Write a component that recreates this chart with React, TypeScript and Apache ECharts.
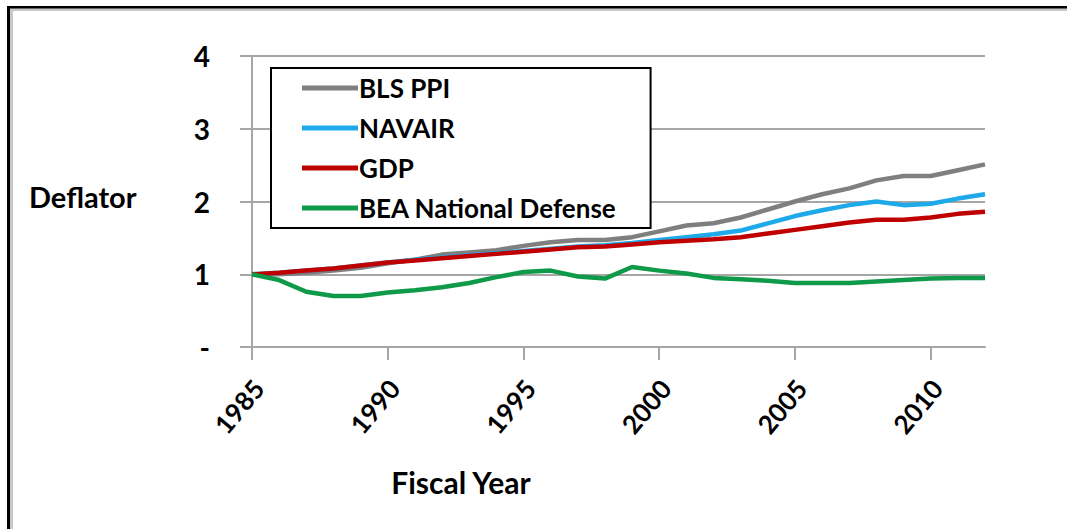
import React, { useEffect, useRef } from "react";
import * as echarts from "echarts";

const years = [
  "1985", "1986", "1987", "1988", "1989", "1990", "1991", "1992", "1993", "1994",
  "1995", "1996", "1997", "1998", "1999", "2000", "2001", "2002", "2003", "2004",
  "2005", "2006", "2007", "2008", "2009", "2010", "2011", "2012",
];

const blsPpi = [
  1.0, 1.0, 1.02, 1.05, 1.09, 1.15, 1.2, 1.27, 1.3, 1.33,
  1.39, 1.44, 1.47, 1.47, 1.51, 1.59, 1.67, 1.7, 1.78, 1.89,
  2.0, 2.1, 2.18, 2.29, 2.35, 2.35, 2.43, 2.51,
];

const navair = [
  1.0, 1.02, 1.05, 1.08, 1.12, 1.16, 1.2, 1.23, 1.26, 1.29,
  1.32, 1.35, 1.38, 1.4, 1.43, 1.47, 1.51, 1.55, 1.6, 1.7,
  1.8, 1.88, 1.95, 2.0, 1.95, 1.97, 2.04, 2.1,
];

const gdp = [
  1.0, 1.02, 1.05, 1.08, 1.12, 1.16, 1.19, 1.22, 1.25, 1.28,
  1.31, 1.34, 1.37, 1.38, 1.41, 1.44, 1.46, 1.48, 1.51, 1.56,
  1.61, 1.66, 1.71, 1.75, 1.75, 1.78, 1.83, 1.86,
];

const beaDefense = [
  1.0, 0.92, 0.76, 0.7, 0.7, 0.75, 0.78, 0.82, 0.88, 0.96,
  1.03, 1.05, 0.97, 0.94, 1.1, 1.05, 1.01, 0.95, 0.93, 0.91,
  0.88, 0.88, 0.88, 0.9, 0.92, 0.94, 0.95, 0.95,
];

const seriesNames = ["BLS PPI", "NAVAIR", "GDP", "BEA National Defense"];
const seriesColors = ["#7f7f7f", "#1eaaea", "#c00000", "#0e9a48"];
const seriesData = [blsPpi, navair, gdp, beaDefense];

const FONT = "Lato, 'Open Sans', sans-serif";

export default function App() {
  const ref = useRef<HTMLDivElement>(null);
  useEffect(() => {
    if (!ref.current) return;
    const chart = echarts.init(ref.current, null, { renderer: "svg" });
    chart.setOption({
      animation: false,
      backgroundColor: "#ffffff",
      grid: { left: 252, top: 56, right: 82, bottom: 182, containLabel: false },
      legend: {
        left: 271,
        top: 68,
        orient: "vertical",
        data: seriesNames,
        icon: "rect",
        itemWidth: 56,
        itemHeight: 5,
        itemGap: 10,
        padding: [5, 34, 5, 31],
        borderColor: "#000",
        borderWidth: 2,
        backgroundColor: "#fff",
        textStyle: {
          fontFamily: FONT,
          fontWeight: "bold",
          fontSize: 26,
          lineHeight: 30,
          color: "#000",
          padding: [0, 0, 0, -4],
        },
      },
      xAxis: {
        type: "category",
        data: years,
        boundaryGap: false,
        axisLine: { lineStyle: { color: "#a6a6a6", width: 2 } },
        axisTick: {
          show: true,
          interval: 4,
          length: 13,
          lineStyle: { color: "#a6a6a6", width: 2 },
        },
        axisLabel: {
          interval: 4,
          rotate: 50,
          margin: 44,
          padding: [0, -10, 0, 0],
          fontFamily: FONT,
          fontWeight: "bold",
          fontSize: 26,
          color: "#000",
        },
        splitLine: { show: false },
      },
      yAxis: {
        type: "value",
        min: 0,
        max: 4,
        interval: 1,
        axisLine: { show: true, lineStyle: { color: "#a6a6a6", width: 2 } },
        axisTick: {
          show: true,
          inside: false,
          length: 12,
          lineStyle: { color: "#a6a6a6", width: 2 },
        },
        axisLabel: {
          margin: 42,
          fontFamily: FONT,
          fontWeight: "bold",
          fontSize: 28,
          color: "#000",
          formatter: (v: number) => (v === 0 ? "-" : String(v)),
        },
        splitLine: { show: true, lineStyle: { color: "#a6a6a6", width: 2 } },
      },
      series: seriesNames.map((name, i) => ({
        name,
        type: "line",
        data: seriesData[i],
        showSymbol: false,
        symbol: "none",
        smooth: false,
        lineStyle: { color: seriesColors[i], width: 4.5 },
        itemStyle: { color: seriesColors[i] },
        z: 2 + i,
      })),
      graphic: [
        {
          type: "rect",
          shape: { x: 8, y: 8, width: 1059, height: 3 },
          style: { fill: "#c8c8c8" },
          z: 100,
        },
        {
          type: "rect",
          shape: { x: 10, y: 8, width: 3, height: 521 },
          style: { fill: "#c8c8c8" },
          z: 100,
        },
        {
          type: "rect",
          shape: { x: 7, y: 6, width: 1060, height: 2.5 },
          style: { fill: "#000" },
          z: 101,
        },
        {
          type: "rect",
          shape: { x: 7, y: 6, width: 3, height: 523 },
          style: { fill: "#000" },
          z: 101,
        },
        {
          type: "text",
          x: 29,
          y: 196,
          style: {
            text: "Deflator",
            fontFamily: FONT,
            fontWeight: "bold",
            fontSize: 29,
            fill: "#000",
            verticalAlign: "middle",
            align: "left",
          },
        },
        {
          type: "text",
          x: 461,
          y: 482,
          style: {
            text: "Fiscal Year",
            fontFamily: FONT,
            fontWeight: "bold",
            fontSize: 30,
            fill: "#000",
            verticalAlign: "middle",
            align: "center",
          },
        },
      ],
    });
    return () => chart.dispose();
  }, []);
  return (
    <div
      ref={ref}
      style={{ position: "fixed", left: 0, top: 0, width: 1067, height: 529 }}
    />
  );
}
